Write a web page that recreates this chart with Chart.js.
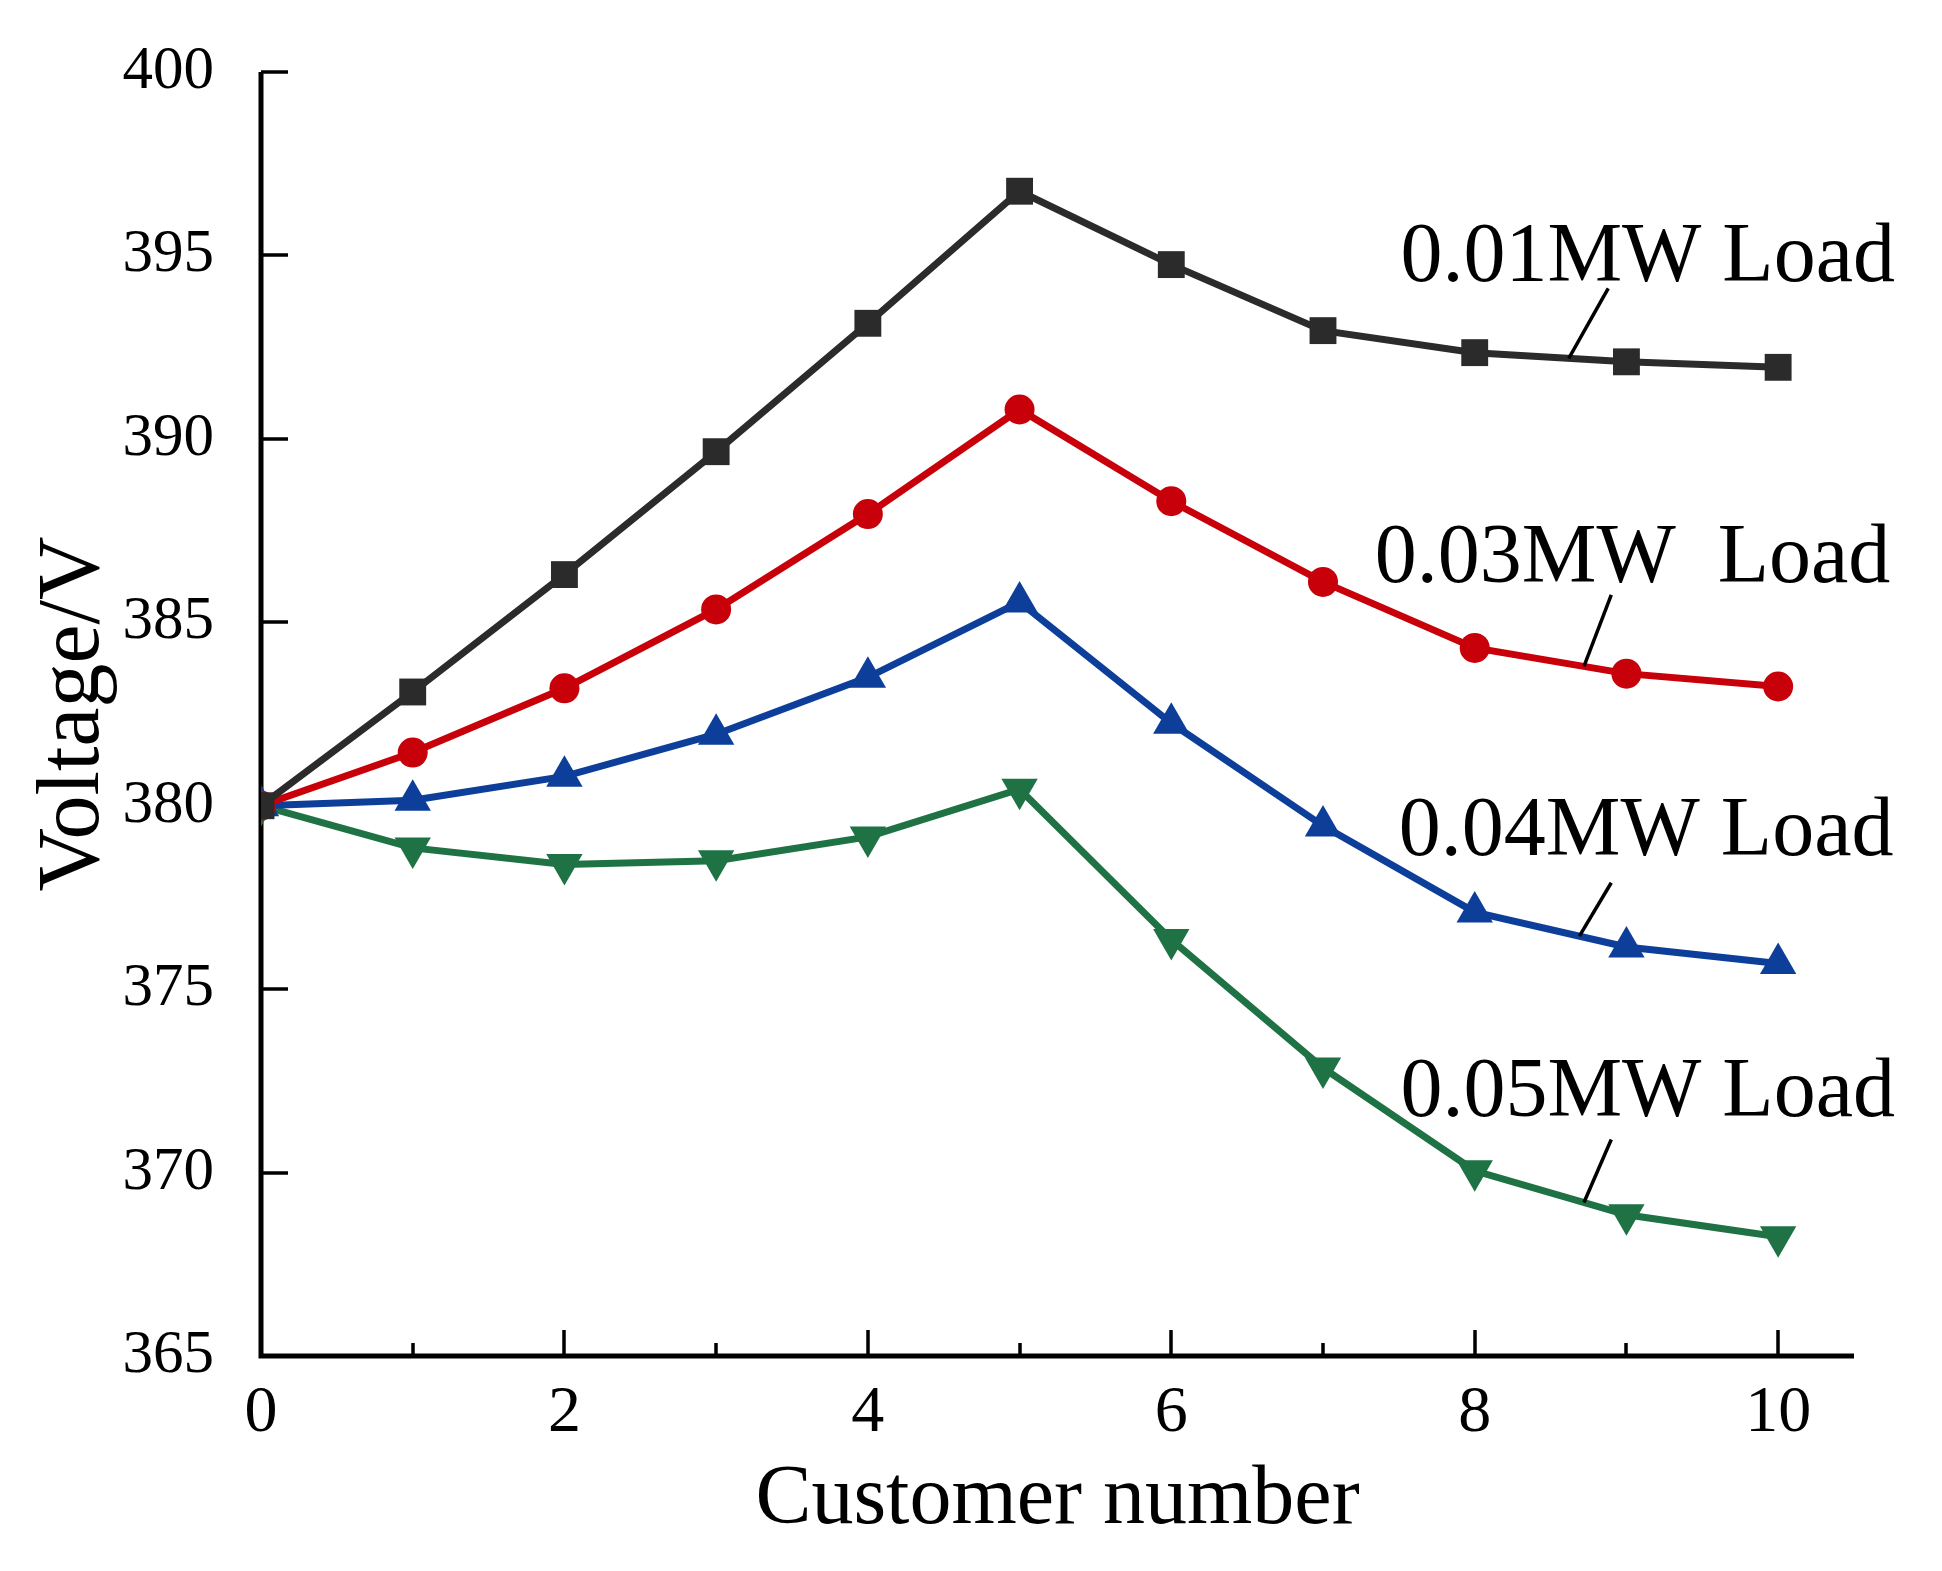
<!DOCTYPE html>
<html>
<head>
<meta charset="utf-8">
<script src="https://cdn.jsdelivr.net/npm/chart.js@4.4.1/dist/chart.umd.min.js"></script>
<style>
  html, body { margin: 0; padding: 0; background: #fff; }
  #wrap { width: 1942px; height: 1571px; }
</style>
</head>
<body>
<div id="wrap"><canvas id="voltageChart"></canvas></div>
<script>
// customer index along the feeder
const customers = [0, 1, 2, 3, 4, 5, 6, 7, 8, 9, 10];

// voltage at each customer (V)
const load001 = [380.0, 383.1, 386.3, 389.65, 393.15, 396.75, 394.75, 392.95, 392.35, 392.1, 391.95];
const load003 = [380.0, 381.45, 383.2, 385.35, 387.95, 390.8, 388.3, 386.1, 384.3, 383.6, 383.25];
const load004 = [380.0, 380.15, 380.8, 381.95, 383.5, 385.55, 382.25, 379.45, 377.1, 376.15, 375.7];
const load005 = [380.0, 378.85, 378.4, 378.5, 379.15, 380.45, 376.35, 372.85, 370.05, 368.85, 368.25];

const seriesNames = ['0.01MW Load', '0.03MW  Load', '0.04MW Load', '0.05MW Load'];

const yTicks = [365, 370, 375, 380, 385, 390, 395, 400];
const xMajorTicks = [0, 2, 4, 6, 8, 10];
const xMinorTicks = [1, 3, 5, 7, 9];

const FONT = '"Liberation Serif", "Times New Roman", serif';

function toPoints(ys) {
  return customers.map((x, i) => ({ x: x, y: ys[i] }));
}

// axis lines, inward ticks
const axesPlugin = {
  id: 'axes',
  beforeDatasetsDraw(chart) {
    const { ctx, chartArea: a, scales: { x, y } } = chart;
    ctx.save();
    ctx.strokeStyle = '#000';
    ctx.lineWidth = 5;
    ctx.beginPath();
    ctx.moveTo(a.left, a.top);
    ctx.lineTo(a.left, a.bottom);
    ctx.lineTo(a.right, a.bottom);
    ctx.stroke();

    ctx.lineWidth = 3.5;
    ctx.beginPath();
    yTicks.forEach(v => {
      const py = Math.round(y.getPixelForValue(v));
      ctx.moveTo(a.left, py);
      ctx.lineTo(a.left + 27, py);
    });
    xMajorTicks.forEach(v => {
      const px = Math.round(x.getPixelForValue(v));
      ctx.moveTo(px, a.bottom);
      ctx.lineTo(px, a.bottom - 26);
    });
    xMinorTicks.forEach(v => {
      const px = Math.round(x.getPixelForValue(v));
      ctx.moveTo(px, a.bottom);
      ctx.lineTo(px, a.bottom - 13);
    });
    ctx.stroke();
    ctx.restore();
  }
};

// series names with short leader lines
const labelPlugin = {
  id: 'seriesLabels',
  afterDatasetsDraw(chart) {
    const { ctx, scales: { x, y } } = chart;
    const spots = [
      { text: 9.14, base: 394.3, topX: 8.88, topY: 394.1, hit: 8.62 },
      { text: 9.04, base: 386.1, topX: 8.90, topY: 385.75, hit: 8.72 },
      { text: 9.13, base: 378.65, topX: 8.90, topY: 377.9, hit: 8.69 },
      { text: 9.14, base: 371.55, topX: 8.90, topY: 370.9, hit: 8.72 }
    ];
    ctx.save();
    ctx.fillStyle = '#000';
    ctx.strokeStyle = '#000';
    ctx.font = '84px ' + FONT;
    ctx.textAlign = 'center';
    ctx.textBaseline = 'alphabetic';
    spots.forEach((s, i) => {
      ctx.fillText(seriesNames[i], x.getPixelForValue(s.text), y.getPixelForValue(s.base));
      const pts = chart.getDatasetMeta(i).data;
      const p0 = pts[8], p1 = pts[9];
      const f = s.hit - 8;
      const bx = p0.x + (p1.x - p0.x) * f;
      const by = p0.y + (p1.y - p0.y) * f;
      ctx.lineWidth = 3.5;
      ctx.beginPath();
      ctx.moveTo(x.getPixelForValue(s.topX), y.getPixelForValue(s.topY));
      ctx.lineTo(bx, by);
      ctx.stroke();
    });
    ctx.restore();
  }
};

const ctx = document.getElementById('voltageChart').getContext('2d');

new Chart(ctx, {
  type: 'line',
  data: {
    datasets: [
      {
        label: seriesNames[0],
        data: toPoints(load001),
        borderColor: '#2b2b2b',
        backgroundColor: '#2b2b2b',
        borderWidth: 7,
        pointStyle: 'rect',
        pointRadius: 19,
        pointBorderWidth: 0
      },
      {
        label: seriesNames[1],
        data: toPoints(load003),
        borderColor: '#c8000a',
        backgroundColor: '#c8000a',
        borderWidth: 7,
        pointStyle: 'circle',
        pointRadius: 15,
        pointBorderWidth: 0
      },
      {
        label: seriesNames[2],
        data: toPoints(load004),
        borderColor: '#0d3f9a',
        backgroundColor: '#0d3f9a',
        borderWidth: 7,
        pointStyle: 'triangle',
        pointRadius: 21,
        pointBorderWidth: 0
      },
      {
        label: seriesNames[3],
        data: toPoints(load005),
        borderColor: '#1e7244',
        backgroundColor: '#1e7244',
        borderWidth: 7,
        pointStyle: 'triangle',
        pointRotation: 180,
        pointRadius: 21,
        pointBorderWidth: 0
      }
    ]
  },
  options: {
    responsive: true,
    maintainAspectRatio: false,
    animation: false,
    layout: { padding: { left: 0, top: 72, right: 88, bottom: 0 } },
    plugins: {
      legend: { display: false },
      tooltip: { enabled: false }
    },
    scales: {
      x: {
        type: 'linear',
        min: 0,
        max: 10.5,
        border: { display: false },
        grid: { display: false },
        ticks: {
          stepSize: 2,
          includeBounds: false,
          padding: 10,
          color: '#000',
          font: { family: FONT, size: 66 }
        },
        title: {
          display: true,
          text: 'Customer number',
          color: '#000',
          font: { family: FONT, size: 84 },
          padding: { top: 0, bottom: 20 }
        },
        afterFit(scale) { scale.height = 215; }
      },
      y: {
        min: 365,
        max: 400,
        border: { display: false },
        grid: { display: false },
        ticks: {
          stepSize: 5,
          padding: 39,
          color: '#000',
          font: { family: FONT, size: 61, lineHeight: 1.05 }
        },
        title: {
          display: true,
          text: 'Voltage/V',
          color: '#000',
          font: { family: FONT, size: 88 },
          padding: { top: 22, bottom: 0 }
        },
        afterFit(scale) { scale.width = 261; }
      }
    }
  },
  plugins: [axesPlugin, labelPlugin]
});
</script>
</body>
</html>
